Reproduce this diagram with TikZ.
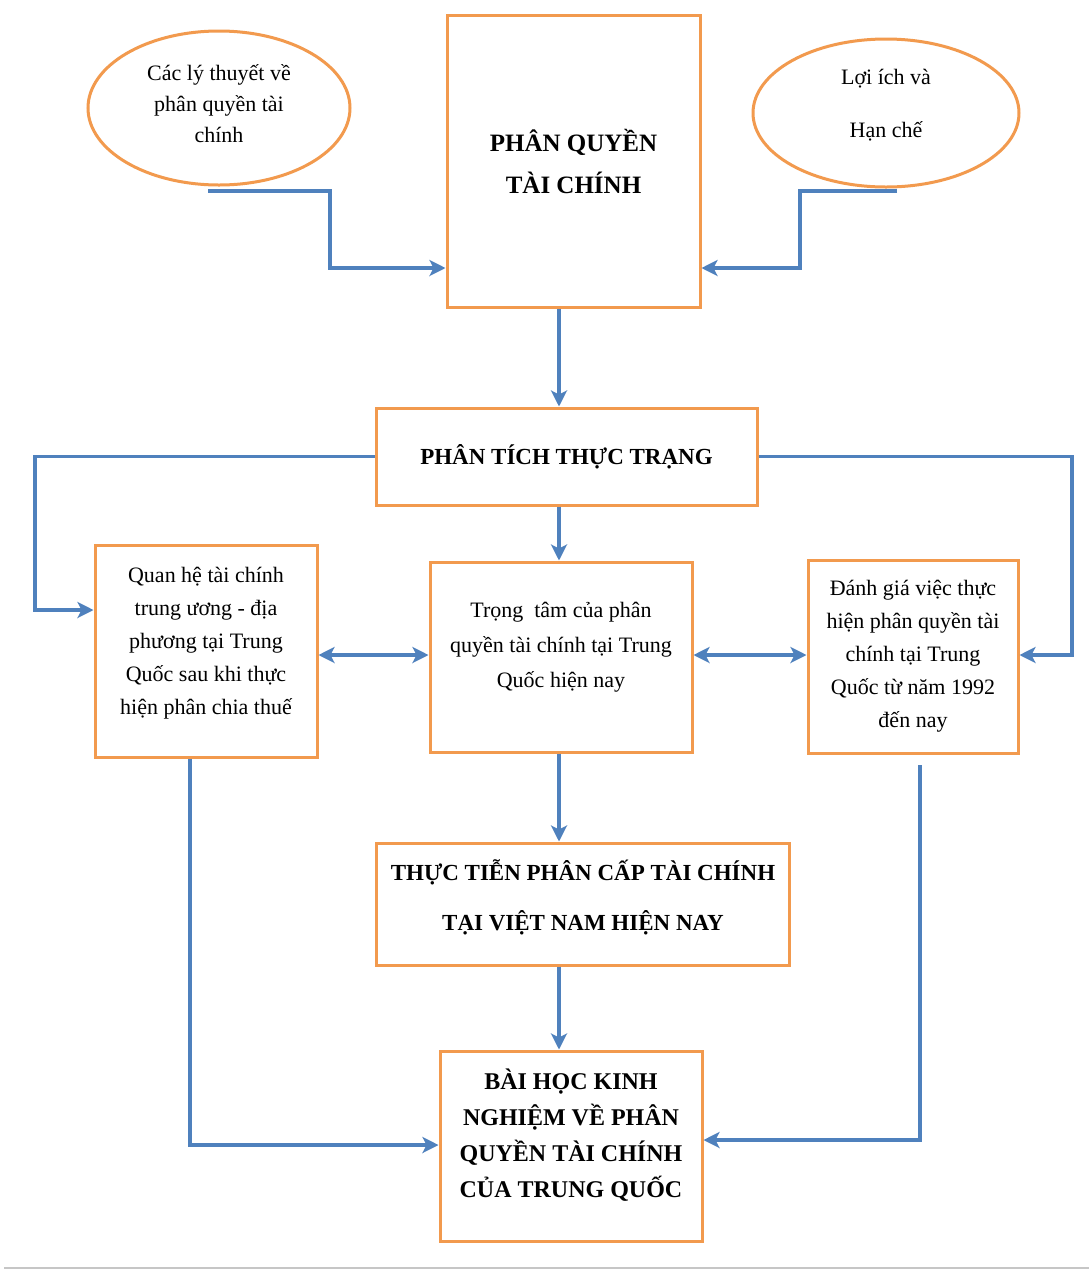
\documentclass[tikz,border=0pt]{standalone}
\usepackage{fontspec}
\setmainfont{Liberation Serif}
\usetikzlibrary{arrows.meta,shapes.geometric}
\definecolor{boxorange}{HTML}{F29A4E}
\definecolor{arrblue}{HTML}{4F81BD}
\tikzset{
  obox/.style={draw=boxorange, line width=3pt, fill=white, align=center, inner sep=4pt},
  oell/.style={ellipse, draw=boxorange, line width=3pt, fill=white, align=center, inner sep=0pt},
  arr/.style={draw=arrblue, line width=3.5pt, -{Stealth[length=16pt,width=16pt,inset=4pt]}},
  darr/.style={draw=arrblue, line width=3.5pt, {Stealth[length=16pt,width=16pt,inset=4pt]}-{Stealth[length=16pt,width=16pt,inset=4pt]}},
  ntext/.style={font=\fontsize{22}{33}\selectfont},
  btext/.style={font=\fontsize{23}{50}\selectfont\bfseries}
}
\begin{document}
\begin{tikzpicture}[x=1pt,y=-1pt]
\useasboundingbox (0,0) rectangle (1089,1270);
\fill[white] (0,0) rectangle (1089,1270);
\draw[gray!45, line width=2pt] (4,1268) -- (1089,1268);

% nodes
\node[oell, minimum width=262, minimum height=154, font=\fontsize{22}{31}\selectfont] (le) at (219,108) {Các lý thuyết về\\phân quyền tài\\chính\\[-22pt]};
\node[oell, minimum width=266, minimum height=148, font=\fontsize{22}{53}\selectfont] (re) at (886,113) {Lợi ích và\\Hạn chế\\[-33pt]};
\node[obox, minimum width=253, minimum height=292, font=\fontsize{25}{42}\selectfont\bfseries] (top) at (573.5,161) {PHÂN QUYỀN\\TÀI CHÍNH};
\node[obox, minimum width=381, minimum height=97, font=\fontsize{23}{33}\selectfont\bfseries] (ana) at (566.5,456.5) {PHÂN TÍCH THỰC TRẠNG};
\node[obox, minimum width=222, minimum height=212, ntext] (lb) at (206,651) {Quan hệ tài chính\\trung ương - địa\\phương tại Trung\\Quốc sau khi thực\\hiện phân chia thuế\\[-12pt]};
\node[obox, minimum width=262, minimum height=190, font=\fontsize{22}{35}\selectfont] (cb) at (561,657) {Trọng~ tâm của phân\\quyền tài chính tại Trung\\Quốc hiện nay\\[-11pt]};
\node[obox, minimum width=210, minimum height=193, ntext] (rb) at (913,656.5) {Đánh giá việc thực\\hiện phân quyền tài\\chính tại Trung\\Quốc từ năm 1992\\đến nay};
\node[obox, minimum width=413, minimum height=122, btext] (vn) at (583,904) {THỰC TIỄN PHÂN CẤP TÀI CHÍNH\\TẠI VIỆT NAM HIỆN NAY\\[-32pt]};
\node[obox, minimum width=262, minimum height=190, font=\fontsize{24}{36}\selectfont\bfseries] (bh) at (571,1146) {BÀI HỌC KINH\\NGHIỆM VỀ PHÂN\\QUYỀN TÀI CHÍNH\\CỦA TRUNG QUỐC\\[-10pt]};

% helper coordinates
\coordinate (cx) at (559,0);
\coordinate (l1) at (208,191);
\coordinate (l2) at (330,268);
\coordinate (r1) at (897,191);
\coordinate (r2) at (800,268);
\coordinate (lf) at (35,610);
\coordinate (rf) at (1072,655);
\coordinate (dy) at (0,655);
\coordinate (ld) at (190,1145);
\coordinate (rd1) at (920,765);
\coordinate (rd) at (920,1140);

% connectors
\draw[arr] (l1) -| (l2) -- (l2 -| top.west);
\draw[arr] (r1) -| (r2) -- (r2 -| top.east);
\draw[arr] (top.south -| cx) -- (ana.north -| cx);
\draw[arr] (ana.west) -| (lf) -- (lf -| lb.west);
\draw[arr] (ana.east) -| (rf) -- (rf -| rb.east);
\draw[arr] (ana.south -| cx) -- (cb.north -| cx);
\draw[darr] (lb.east |- dy) -- (cb.west |- dy);
\draw[darr] (cb.east |- dy) -- (rb.west |- dy);
\draw[arr] (cb.south -| cx) -- (vn.north -| cx);
\draw[arr] (vn.south -| cx) -- (bh.north -| cx);
\draw[arr] (lb.south -| ld) -- (ld) -- (ld -| bh.west);
\draw[arr] (rd1) -- (rd) -- (rd -| bh.east);
\end{tikzpicture}
\end{document}
